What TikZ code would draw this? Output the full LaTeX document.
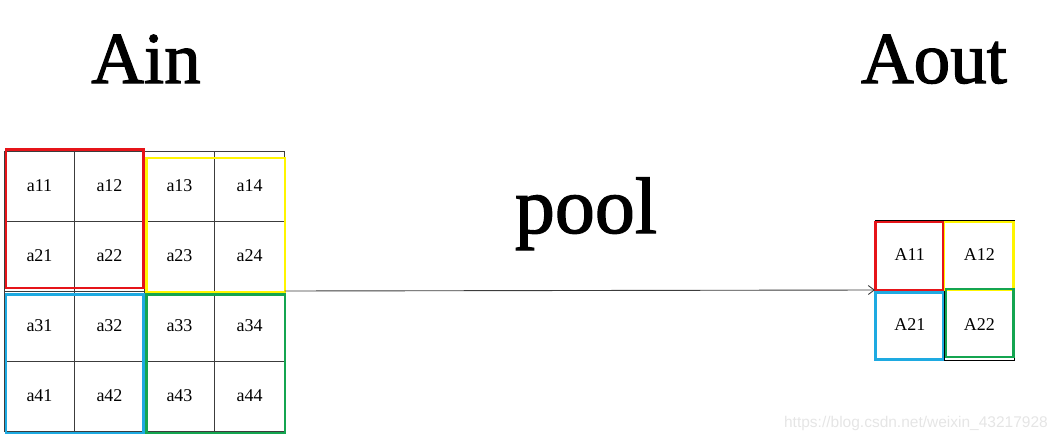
\documentclass[tikz,border=0pt]{standalone}
\usepackage{fontspec}
\setmainfont{Liberation Serif}
\newfontfamily\wmfont{Liberation Sans}
\newfontfamily\titlefont[FakeBold=1.6]{Liberation Serif}
\usetikzlibrary{arrows.meta}
\definecolor{cred}{RGB}{230,20,25}
\definecolor{cyellow}{RGB}{255,245,0}
\definecolor{cblue}{RGB}{30,170,225}
\definecolor{cgreen}{RGB}{20,165,80}
\definecolor{gridgray}{RGB}{60,60,60}
\tikzset{
  cell/.style={draw=gridgray, line width=0.9pt, minimum width=70pt, minimum height=70pt,
    inner sep=0pt, outer sep=0pt, font=\fontsize{18}{20}\selectfont},
  ocell/.style={draw=black, line width=0.9pt, minimum width=69.5pt, minimum height=70pt,
    inner sep=0pt, outer sep=0pt, font=\fontsize{18}{20}\selectfont},
  pbox/.style={line width=2.6pt},
  title/.style={anchor=base, inner sep=0pt, font=\titlefont\fontsize{73}{80}\selectfont},
}
\begin{document}
\begin{tikzpicture}[x=1pt,y=-1pt]
\useasboundingbox (0,0) rectangle (1059,436);
% input grid
\foreach \r in {1,...,4}{
  \foreach \c in {1,...,4}{
    \node[cell] (a\r\c) at ({4.5+70*(\c-1)+35},{151+70*(\r-1)+35}) {a\r\c};
  }
}
% colored pooling windows
\draw[pbox, cyellow] (146.5,158) rectangle (285,292.5);
\draw[pbox, cred] (6,149.5) rectangle (143.5,288);
\draw[pbox, cblue] (6,294.5) rectangle (143.5,433);
\draw[pbox, cgreen] (146.5,294.5) rectangle (285,433);
% output grid
\node[ocell] (A11) at ({875+34.75},{220+35}) {A11};
\node[ocell] (A12) at ({875+69.5+34.75},{220+35}) {A12};
\node[ocell] (A21) at ({875+34.75},{290+35}) {A21};
\node[ocell] (A22) at ({875+69.5+34.75},{290+35}) {A22};
\draw[pbox, cyellow] (944,222) rectangle (1013.5,290);
\draw[pbox, cred] (875.5,222) rectangle (943,290);
\draw[pbox, cblue] (875.5,292.5) rectangle (943,359.5);
\draw[pbox, cgreen] (946,289) rectangle (1013.5,357);
% arrow
\draw[gridgray, line width=0.9pt, -{Straight Barb[length=6pt,width=9pt]}] (a24.south east) -- (A11.south west);
% titles
\node[title] (ain) at (146,83) {Ain};
\node[title] (aout) at (934,83) {Aout};
\node[title, font=\titlefont\fontsize{80}{88}\selectfont] (pool) at (586,233) {pool};
\node[anchor=base east, inner sep=0pt, text=black!10, font=\wmfont\fontsize{15.5}{17}\selectfont] (wm) at (1048,427) {https://blog.csdn.net/weixin\_43217928};
\end{tikzpicture}
\end{document}
